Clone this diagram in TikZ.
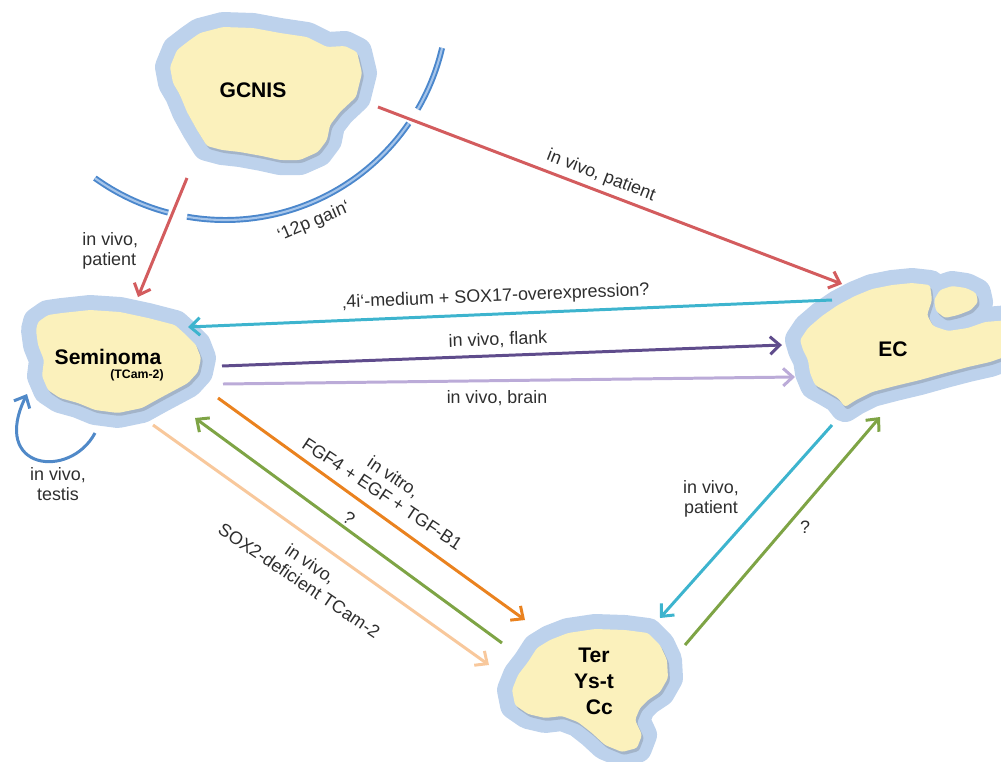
\documentclass[tikz,border=0pt]{standalone}
\usepackage{fontspec}
\setmainfont{Liberation Sans}
\usetikzlibrary{arrows.meta}
\definecolor{haloC}{HTML}{BDD2EC}
\definecolor{blobC}{HTML}{FBF1BC}
\definecolor{shadowC}{HTML}{A3B4C9}
\definecolor{labC}{HTML}{2E2E2E}
\definecolor{redC}{HTML}{D35C5E}
\definecolor{cyanC}{HTML}{3DB4CE}
\definecolor{purpC}{HTML}{5F4C8C}
\definecolor{lpurpC}{HTML}{BBABD8}
\definecolor{orangeC}{HTML}{EA821F}
\definecolor{greenC}{HTML}{7EA445}
\definecolor{lorangeC}{HTML}{F8C89C}
\definecolor{loopC}{HTML}{5089C8}
\definecolor{arcC}{HTML}{4B87CC}
\definecolor{arcInC}{HTML}{A6C5EA}
\newcommand\shapeGCNIS[1]{\path[#1] (170,67) -- (177,50) -- (190,40) -- (200,33) -- (223,27) -- (253,28) -- (280,33) -- (307,37) -- (327,47) -- (345,46) -- (357,52) -- (362,73) -- (356,97) -- (340,112) -- (330,125) -- (327,140) -- (318,152) -- (300,160) -- (280,160) -- (262,156) -- (240,152) -- (222,150) -- (207,146) -- (197,130) -- (187,112) -- (180,95) -- (173,83) -- cycle;}
\newcommand\shapeSem[1]{\path[#1] (38,322) -- (48,315) -- (62,313) -- (90,310) -- (120,312) -- (148,318) -- (175,325) -- (186,335) -- (196,345) -- (201,358) -- (198,372) -- (188,383) -- (175,390) -- (160,398) -- (142,408) -- (118,413) -- (95,410) -- (78,403) -- (60,398) -- (48,390) -- (42,376) -- (44,360) -- (38,345) -- (36,330) -- cycle;}
\newcommand\shapeEC[1]{\path[#1] (800,340) -- (808,328) -- (822,316) -- (838,305) -- (855,296) -- (872,289) -- (892,285) -- (912,283) -- (930,285) -- (932,300) -- (927,315) -- (933,326) -- (948,331) -- (968,328) -- (985,322) -- (1010,320) -- (1010,355) -- (990,362) -- (968,367) -- (945,373) -- (920,380) -- (895,386) -- (872,392) -- (856,400) -- (845,407) -- (838,398) -- (826,391) -- (815,385) -- (810,373) -- (808,360) -- (803,350) -- cycle;}
\newcommand\shapeECs[1]{\path[#1] (934,300) -- (940,290) -- (952,286) -- (966,288) -- (976,293) -- (978,302) -- (971,310) -- (958,315) -- (945,318) -- (936,311) -- cycle;}
\newcommand\shapeTer[1]{\path[#1] (537,648) -- (550,640) -- (568,633) -- (595,629) -- (625,630) -- (648,633) -- (660,645) -- (667,660) -- (668,678) -- (660,692) -- (648,700) -- (640,708) -- (635,720) -- (642,735) -- (637,748) -- (622,752) -- (605,745) -- (592,733) -- (578,722) -- (562,716) -- (545,718) -- (528,714) -- (515,705) -- (512,690) -- (518,675) -- (528,662) -- cycle;}
\tikzset{
  halo/.style={draw=haloC, fill=haloC, line width=0.6cm, line join=round},
  blob/.style={fill=blobC, rounded corners=1.5pt},
  shadowblob/.style={fill=shadowC, rounded corners=1.5pt, shift={(2,3)}},
  title/.style={font=\fontsize{12}{14}\selectfont\bfseries, text=black, inner sep=0, align=center},
  lab/.style={font=\fontsize{10.2}{11.6}\selectfont, text=labC, align=center, inner sep=0},
  conn/.style={line width=1.7pt, -{Straight Barb[length=5.5pt,width=10pt,line width=1.7pt]}},
  arcline/.style={draw=arcC, line width=1.1pt, double=arcInC, double distance=1.2pt},
}
\begin{document}
\begin{tikzpicture}[x=0.02cm, y=-0.02cm]
\useasboundingbox (0,0) rectangle (1001,761);
% blobs
\shapeGCNIS{halo}\shapeSem{halo}\shapeEC{halo}\shapeECs{halo}\shapeTer{halo}
\shapeGCNIS{shadowblob}\shapeSem{shadowblob}\shapeEC{shadowblob}\shapeECs{shadowblob}\shapeTer{shadowblob}
\shapeGCNIS{blob}\shapeSem{blob}\shapeEC{blob}\shapeECs{blob}\shapeTer{blob}
% titles
\node[title] (gcnis) at (253,90) {GCNIS};
\node[title] (sem) at (108,357) {Seminoma};
\node[title, font=\fontsize{7}{8}\selectfont\bfseries] (tcam) at (137,375) {(TCam-2)};
\node[title] (ec) at (893,349) {EC};
\node[title, font=\fontsize{12}{14.8}\selectfont\bfseries] (ter) at (594,681) {Ter\\Ys-t\\\hspace*{0.5em}Cc};
% 12p arc (gaps where red arrows cross)
\draw[arcline] (225,-3) ++(125.7:223) arc[start angle=125.7, end angle=104.8, radius=223];
\draw[arcline] (225,-3) ++(99.8:223) arc[start angle=99.8, end angle=34.5, radius=223];
\draw[arcline] (225,-3) ++(30.2:223) arc[start angle=30.2, end angle=13.2, radius=223];
\node[lab, rotate=23] (gain) at (314,222) {‘12p gain‘};
% endpoints
\coordinate (gA) at (187,178); \coordinate (sA) at (138,297);
\coordinate (gB) at (378,107); \coordinate (eB) at (842,284);
\coordinate (eC) at (832,300); \coordinate (sC) at (188,327);
\coordinate (sD) at (222,366); \coordinate (eD) at (782,345);
\coordinate (sE) at (223,384); \coordinate (eE) at (795,377);
\coordinate (sF) at (218,398); \coordinate (tF) at (525,620);
\coordinate (tG) at (502,643); \coordinate (sG) at (195,418);
\coordinate (sH) at (153,425); \coordinate (tH) at (489,665);
\coordinate (eI) at (832,425); \coordinate (tI) at (660,618);
\coordinate (tJ) at (685,645); \coordinate (eJ) at (880,417);
\coordinate (sK) at (95,433);  \coordinate (sK2) at (27,394);
% connectors
\draw[conn, redC] (gA) -- (sA);
\draw[conn, redC] (gB) -- (eB);
\draw[conn, cyanC] (eC) -- (sC);
\draw[conn, purpC] (sD) -- (eD);
\draw[conn, lpurpC] (sE) -- (eE);
\draw[conn, orangeC] (sF) -- (tF);
\draw[conn, greenC] (tG) -- (sG);
\draw[conn, lorangeC] (sH) -- (tH);
\draw[conn, cyanC] (eI) -- (tI);
\draw[conn, greenC] (tJ) -- (eJ);
\draw[conn, loopC] (sK) .. controls (70,480) and (-10,470) .. (sK2);
% labels
\node[lab, align=left, anchor=west] (l1) at (82,251) {in vivo,\\patient};
\node[lab, rotate=-21] (l2) at (601,176) {in vivo, patient};
\node[lab, rotate=2.4] (l4) at (496,297) {‚4i‘-medium + SOX17-overexpression?};
\node[lab, rotate=2] (l5) at (498,340) {in vivo, flank};
\node[lab, rotate=0.5] (l6) at (497,398) {in vivo, brain};
\node[lab, rotate=-33.5] (l7) at (388,485) {in vitro,\\FGF4 + EGF + TGF-B1};
\node[lab, rotate=-35] (l8) at (349,518) {?};
\node[lab, rotate=-34] (l9) at (305,572) {in vivo,\\SOX2-deficient TCam-2};
\node[lab] (l10) at (711,499) {in vivo,\\patient};
\node[lab] (l11) at (805,527) {?};
\node[lab] (l12) at (58,484) {in vivo,\\testis};
\end{tikzpicture}
\end{document}
